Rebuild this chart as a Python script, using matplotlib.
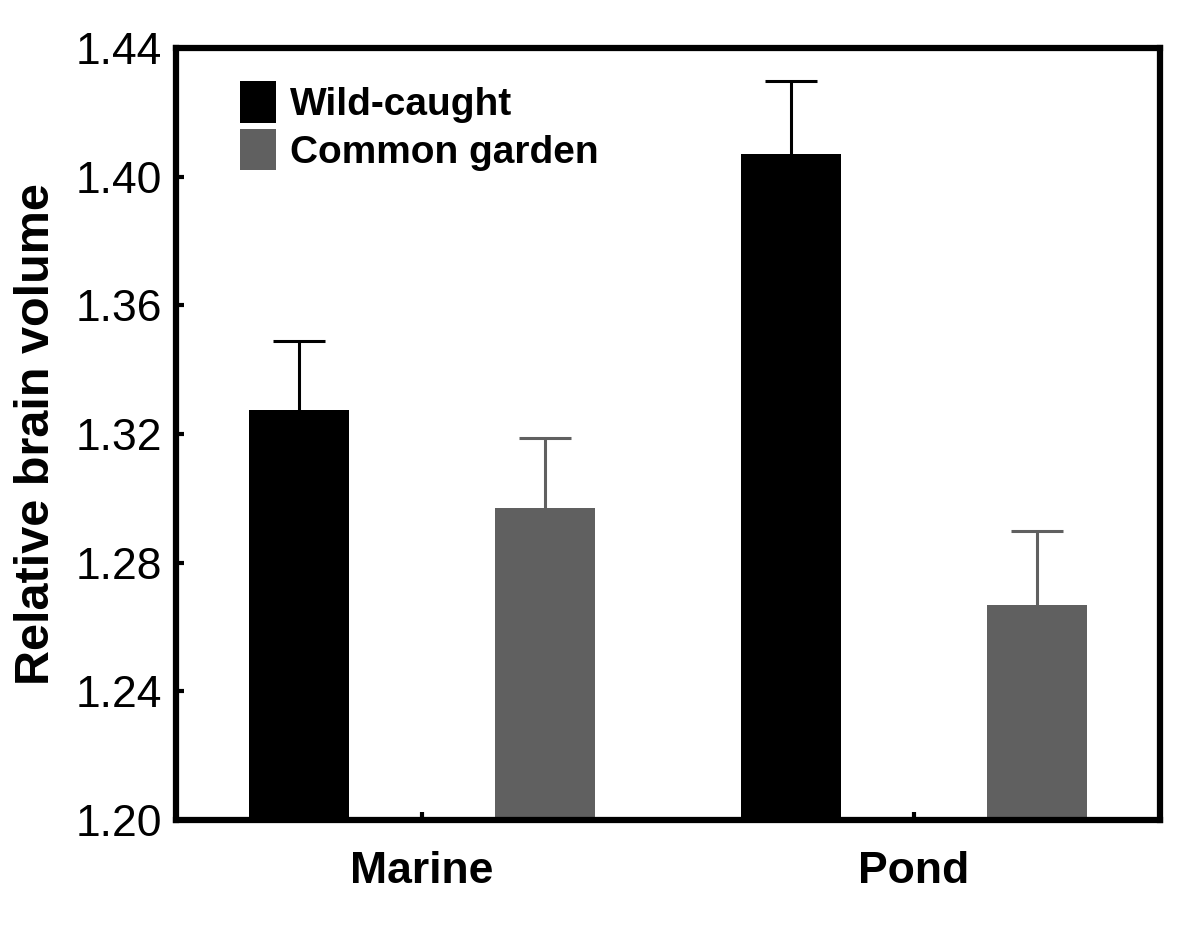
import numpy as np
import matplotlib.pyplot as plt
from matplotlib.patches import Patch

plt.rcParams['font.family'] = ['Liberation Sans', 'DejaVu Sans']

groups = ["Marine", "Pond"]
series = ["Wild-caught", "Common garden"]
means = {"Wild-caught": [1.3275, 1.407], "Common garden": [1.297, 1.267]}
errs = {"Wild-caught": [0.0215, 0.0227], "Common garden": [0.0217, 0.0228]}
colors = {"Wild-caught": "#000000", "Common garden": "#606060"}
yticks = [1.20, 1.24, 1.28, 1.32, 1.36, 1.40, 1.44]

fig = plt.figure(figsize=(12, 9.4), dpi=100)
ax = fig.add_axes([0.1467, 0.1277, 0.82, 0.821])

x = np.arange(len(groups))
offsets = [-0.25, 0.25]
width = 0.203
for s, off in zip(series, offsets):
    xs = x + off
    # symmetric errors, the lower half is hidden behind the bar
    ax.errorbar(xs, means[s], yerr=errs[s], fmt='none',
                ecolor=colors[s], elinewidth=2.2, capsize=18.5, capthick=2.2, zorder=1)
    ax.bar(xs, np.array(means[s]) - 1.20, width=width, bottom=1.20,
           color=colors[s], zorder=2)

ax.set_xlim(-0.5, 1.5)
ax.set_ylim(1.20, 1.44)
ax.set_yticks(yticks)
ax.set_yticklabels([f"{t:.2f}" for t in yticks], fontsize=32)
ax.set_xticks(x)
ax.set_xticklabels(groups, fontsize=32, fontweight='bold')
ax.tick_params(direction='in', length=6, width=3, pad=10)
ax.tick_params(axis='x', pad=22)
for sp in ax.spines.values():
    sp.set_linewidth(4.5)
ax.set_ylabel("Relative brain volume", fontsize=35, fontweight='bold', labelpad=12)

handles = [Patch(facecolor=colors[s], edgecolor='none') for s in series]
ax.legend(handles, series, loc='upper left', bbox_to_anchor=(0.065, 0.957),
          frameon=False, borderpad=0, borderaxespad=0,
          prop={'size': 28, 'weight': 'bold'},
          handlelength=0.93, handleheight=1.25, handletextpad=0.35, labelspacing=0.15)

fig.savefig("out.png", dpi=100)
